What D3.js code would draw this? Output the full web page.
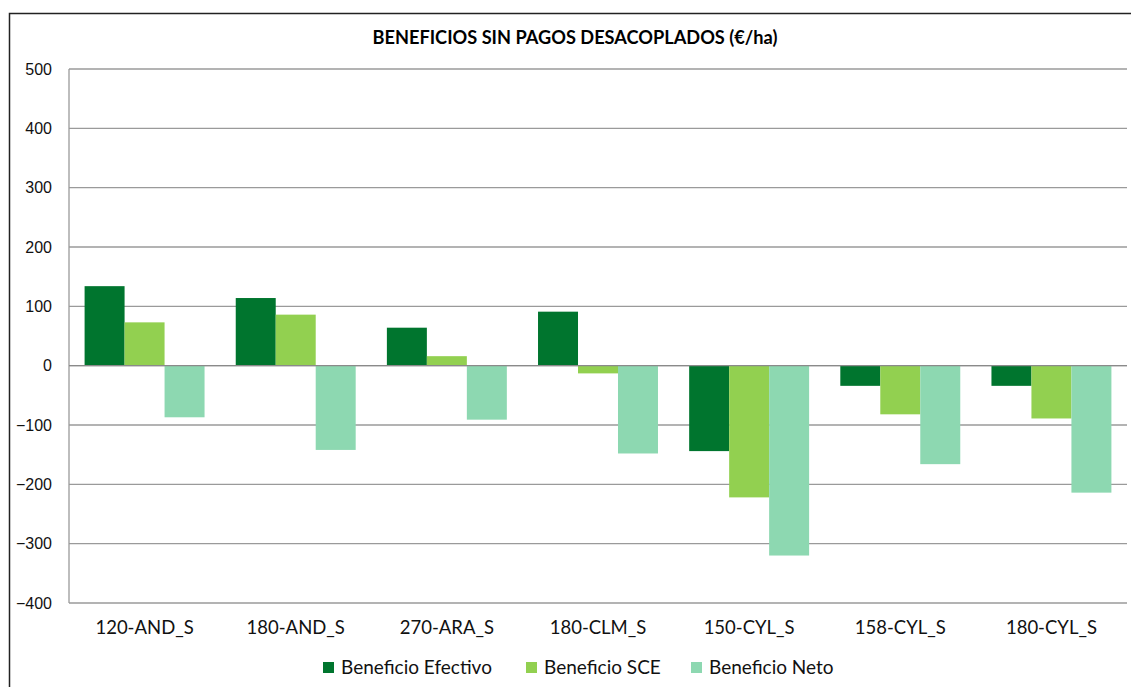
<!DOCTYPE html>
<html><head><meta charset="utf-8">
<script src="https://cdn.jsdelivr.net/npm/d3@7"></script>
<style>body{margin:0;background:#fff}svg{display:block}</style>
</head><body>
<script>
const categories = ["120-AND_S","180-AND_S","270-ARA_S","180-CLM_S","150-CYL_S","158-CYL_S","180-CYL_S"];
const seriesNames = ["Beneficio Efectivo","Beneficio SCE","Beneficio Neto"];
const efectivo = [134, 114, 64, 91, -144, -34, -34];
const sce = [73, 86, 16, -13, -222, -82, -89];
const neto = [-87, -142, -91, -148, -320, -166, -214];
const yTicks = [500,400,300,200,100,0,-100,-200,-300,-400];
const colors = ["#00752E","#92D050","#8DD8B1"];
const title = "BENEFICIOS SIN PAGOS DESACOPLADOS (€/ha)";

(function(){
const W = 1131, H = 687;
const svg = d3.select("body").append("svg").attr("width", W).attr("height", H);
svg.append("rect").attr("x",9.5).attr("y",13.5).attr("width",W+20).attr("height",H+20)
  .attr("fill","#fff").attr("stroke","#222").attr("stroke-width",1.5);

const pl = 69, pr = 1127, pt = 69, pb = 603;
const y = d3.scaleLinear().domain([-400,500]).range([pb, pt]);
const x = d3.scaleBand().domain(categories).range([pl, pr]).padding(0);
const xs = d3.scaleBand().domain(seriesNames).range([0, x.bandwidth()]).paddingInner(0).paddingOuter(0.39);

const g = svg.append("g");
g.selectAll("line.grid").data(yTicks).join("line")
  .attr("x1", pl).attr("x2", pr).attr("y1", d=>y(d)).attr("y2", d=>y(d))
  .attr("stroke", "#9a9a9a").attr("stroke-width", 1.3);
g.append("line").attr("x1",pl).attr("x2",pl).attr("y1",pt).attr("y2",pb)
  .attr("stroke","#9a9a9a").attr("stroke-width",1.3);

const yAxis = d3.axisLeft(y).tickValues(yTicks).tickSize(0).tickPadding(0);
const ya = svg.append("g").attr("transform",`translate(${52},0)`).call(yAxis);
ya.select(".domain").remove();
ya.selectAll("text").attr("font-family","'Liberation Sans', Arial, sans-serif").attr("font-size",16).attr("fill","#111");

const data = categories.map((c,i)=>({cat:c, vals:[efectivo[i], sce[i], neto[i]]}));
const groups = svg.append("g").selectAll("g").data(data).join("g")
  .attr("transform", d=>`translate(${x(d.cat)},0)`);
groups.selectAll("rect").data(d=>d.vals.map((v,j)=>({v, s:seriesNames[j], j}))).join("rect")
  .attr("x", d=>xs(d.s)).attr("width", xs.bandwidth())
  .attr("y", d=>y(Math.max(0,d.v))).attr("height", d=>Math.abs(y(d.v)-y(0)))
  .attr("fill", d=>colors[d.j]);

svg.append("line").attr("x1",pl).attr("x2",pr).attr("y1",y(0)).attr("y2",y(0))
  .attr("stroke","#8a8a8a").attr("stroke-width",1.3);

const xAxis = d3.axisBottom(x).tickSize(0).tickPadding(0);
const xa = svg.append("g").attr("transform",`translate(0,${621})`).call(xAxis);
xa.select(".domain").remove();
xa.selectAll("text").attr("font-family","Lato, 'Open Sans', sans-serif").attr("font-size",18.5).attr("fill","#111");

svg.append("text").attr("x",575).attr("y",44).attr("text-anchor","middle")
  .attr("font-family","Lato, 'Open Sans', sans-serif").attr("font-weight","bold").attr("font-size",18.2)
  .attr("fill","#000").text(title);

const legX = [323, 526, 691];
const leg = svg.append("g").selectAll("g").data(seriesNames).join("g")
  .attr("transform",(d,i)=>`translate(${legX[i]},${662})`);
leg.append("rect").attr("width",11).attr("height",11).attr("fill",(d,i)=>colors[i]);
leg.append("text").attr("x",18).attr("y",12).text(d=>d)
  .attr("font-family","Lato, 'Open Sans', sans-serif").attr("font-size",19).attr("fill","#111");
})();
</script>
</body></html>
